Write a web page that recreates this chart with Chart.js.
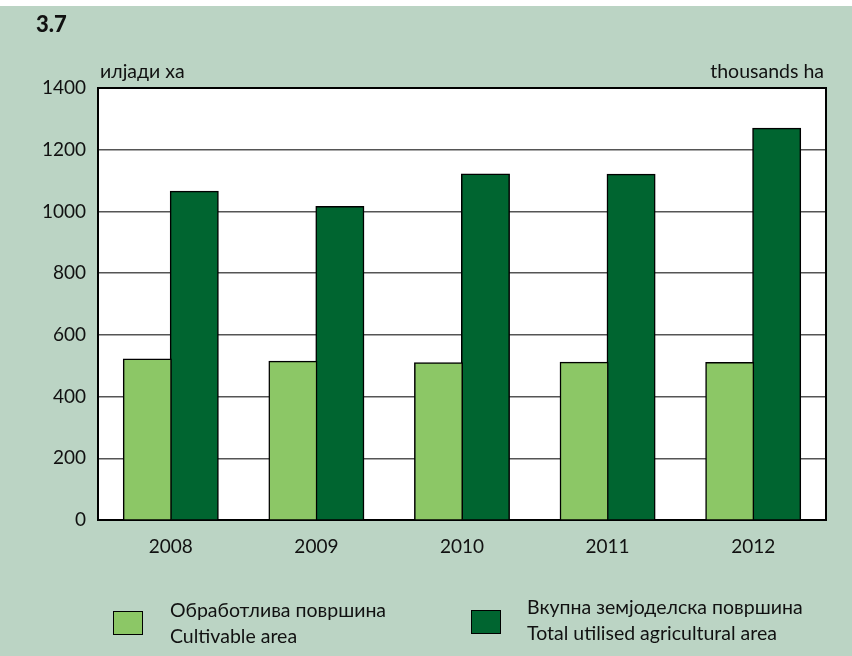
<!DOCTYPE html>
<html>
<head>
<meta charset="utf-8">
<script src="https://cdn.jsdelivr.net/npm/chart.js@4/dist/chart.umd.min.js"></script>
<style>
  html, body { margin: 0; padding: 0; background: #ffffff; }
  #wrap { position: relative; width: 852px; height: 656px; background: #ffffff; overflow: hidden; font-family: Lato, "Noto Sans", sans-serif; color: #111; }
  #bg { position: absolute; left: 0; top: 6px; width: 852px; height: 650px; background: #bbd4c4; }
  #c { position: absolute; left: 0; top: 0; }
  .t { position: absolute; white-space: nowrap; }
  #title { left: 36px; top: 10px; font-weight: 900; font-size: 22px; }
  #uL { left: 100px; top: 59px; font-size: 19.5px; }
  #uR { right: 28px; top: 59px; font-size: 19.5px; }
  .box { position: absolute; width: 28px; height: 22px; border: 1.5px solid #000; }
  .lt { position: absolute; font-size: 19.5px; line-height: 26px; white-space: nowrap; }
</style>
</head>
<body>
<div id="wrap">
  <div id="bg"></div>
  <canvas id="c" width="852" height="656"></canvas>
  <div class="t" id="title">3.7</div>
  <div class="t" id="uL">илјади ха</div>
  <div class="t" id="uR">thousands ha</div>
  <div class="box" id="b1" style="left:113px; top:611px; background:#8cc766;"></div>
  <div class="lt" id="l1" style="left:170px; top:597px;">Обработлива површина<br>Cultivable area</div>
  <div class="box" id="b2" style="left:471px; top:610px; background:#006530;"></div>
  <div class="lt" id="l2" style="left:527px; top:594px;">Вкупна земјоделска површина<br>Total utilised agricultural area</div>
</div>
<script>
const years = ['2008', '2009', '2010', '2011', '2012'];
const cultivable = [520, 513, 508, 510, 509];
const totalUtilised = [1064, 1014, 1120, 1119, 1268];
const yTicks = [0, 200, 400, 600, 800, 1000, 1200, 1400];
const seriesNames = ['Обработлива површина / Cultivable area', 'Вкупна земјоделска површина / Total utilised agricultural area'];

const frame = {
  id: 'frame',
  beforeDatasetsDraw(chart) {
    const a = chart.chartArea, ctx = chart.ctx;
    ctx.save();
    ctx.strokeStyle = '#000';
    ctx.lineWidth = 2;
    ctx.strokeRect(a.left, a.top, a.right - a.left, a.bottom - a.top);
    ctx.restore();
  },
  beforeDraw(chart) {
    const a = chart.chartArea, ctx = chart.ctx;
    ctx.save();
    ctx.fillStyle = '#ffffff';
    ctx.fillRect(a.left, a.top, a.right - a.left, a.bottom - a.top);
    ctx.restore();
  }
};

new Chart(document.getElementById('c'), {
  type: 'bar',
  data: {
    labels: years,
    datasets: [
      { label: seriesNames[0], data: cultivable, backgroundColor: '#8cc766', borderColor: '#000', borderWidth: 1.5, borderSkipped: 'bottom', inflateAmount: 1 },
      { label: seriesNames[1], data: totalUtilised, backgroundColor: '#006530', borderColor: '#000', borderWidth: 1.5, borderSkipped: 'bottom', inflateAmount: 1 }
    ]
  },
  options: {
    responsive: false,
    animation: false,
    events: [],
    layout: { padding: { left: 0, top: 88, right: 26, bottom: 0 } },
    datasets: { bar: { categoryPercentage: 0.645, barPercentage: 1.0 } },
    plugins: { legend: { display: false }, tooltip: { enabled: false } },
    scales: {
      x: {
        grid: { display: false, drawTicks: false },
        border: { display: false },
        ticks: { color: '#111', font: { family: 'Lato', size: 19 }, padding: 15, maxRotation: 0 },
        afterFit: s => { s.height = 136; }
      },
      y: {
        min: 0, max: 1400,
        afterBuildTicks: s => { s.ticks = yTicks.map(v => ({ value: v })); },
        grid: { color: '#555', lineWidth: 1.5, drawTicks: false },
        border: { display: false },
        ticks: { color: '#111', font: { family: 'Lato', size: 19 }, padding: 12, callback: v => String(v) },
        afterFit: s => { s.width = 98; }
      }
    }
  },
  plugins: [frame]
});
</script>
</body>
</html>
